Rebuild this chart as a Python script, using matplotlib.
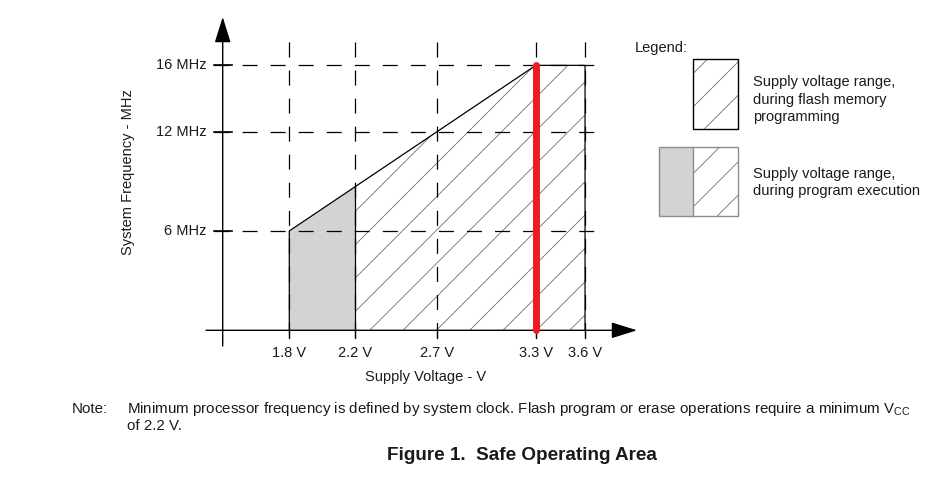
import numpy as np
import matplotlib
matplotlib.use("Agg")
import matplotlib.pyplot as plt
from matplotlib.patches import Polygon, Rectangle

# ---- data
volt_ticks = [1.8, 2.2, 2.7, 3.3, 3.6]
volt_labels = ["1.8 V", "2.2 V", "2.7 V", "3.3 V", "3.6 V"]
freq_ticks = [6, 12, 16]
freq_labels = ["6 MHz", "12 MHz", "16 MHz"]

# program execution only (grey) : 1.8 V .. 2.2 V
exec_v = [1.8, 1.8, 2.2, 2.2]
exec_f = [0, 6, 8.67, 0]
# flash programming allowed (hatched) : 2.2 V .. 3.6 V
flash_v = [2.2, 2.2, 3.3, 3.6, 3.6]
flash_f = [0, 8.67, 16, 16, 0]
# upper boundary of the safe operating area
limit_v = [1.8, 1.8, 3.3, 3.6, 3.6]
limit_f = [0, 6, 16, 16, 0]
# red marker at 3.3 V
marker_v = 3.3
marker_f = [0, 16]

# ---- figure / calibration (pixels of the reference)
W, H, DPI = 929, 491, 100
X0_PX, V0, PX_PER_V = 289.3, 1.8, 164.3
Y0_PX, PX_PER_MHZ = 330.3, 16.56

def vx(px):
    return V0 + (px - X0_PX) / PX_PER_V

def fy(py):
    return (Y0_PX - py) / PX_PER_MHZ

plt.rcParams["font.family"] = ["Liberation Sans", "DejaVu Sans"]
plt.rcParams["lines.scale_dashes"] = False
plt.rcParams["hatch.linewidth"] = 0.6

TXT = "#1a1a1a"
GREY = "#d1d3d4"
HATCH = "#707070"
RED = "#ed1c24"
DASH = (0, (10.8, 9.4))

fig = plt.figure(figsize=(W / DPI, H / DPI), dpi=DPI)
fig.patch.set_facecolor("white")

ax = fig.add_axes([190 / W, 1 - 360 / H, 460 / W, 355 / H])
ax.set_xlim(vx(190), vx(650))
ax.set_ylim(fy(360), fy(5))
ax.axis("off")

# overlay in pixel coordinates for legend and captions
lax = fig.add_axes([0, 0, 1, 1])
lax.set_xlim(0, W)
lax.set_ylim(H, 0)
lax.axis("off")

# --- areas
ax.add_patch(Polygon(np.column_stack([exec_v, exec_f]), closed=True,
                     facecolor=GREY, edgecolor="none", zorder=1))
ax.add_patch(Polygon(np.column_stack([flash_v, flash_f]), closed=True,
                     facecolor="white", edgecolor=HATCH, hatch="/", lw=0, zorder=1))

# --- dashed grid
for f in freq_ticks:
    ax.plot([vx(214), vx(600)], [f, f], color="black", lw=0.9, ls=DASH, zorder=2)
    ax.plot([vx(214), vx(232)], [f, f], color="black", lw=1.2, zorder=3)
for v in volt_ticks:
    ax.plot([v, v], [fy(42), fy(338)], color="black", lw=0.9, ls=DASH, zorder=2)
    ax.plot([v, v], [0, fy(338)], color="black", lw=0.9, zorder=3)

# --- outline of the area
ax.plot(limit_v, limit_f, color="black", lw=0.9, zorder=3)
ax.plot([flash_v[0], flash_v[1]], [flash_f[0], flash_f[1]], color="black", lw=0.9, zorder=3)

# --- axes with arrow heads
arrow = dict(arrowstyle="-|>,head_length=0.8,head_width=0.25", mutation_scale=20,
             lw=1.0, color="black", shrinkA=0, shrinkB=0)
ax.annotate("", xy=(vx(637), 0), xytext=(vx(206), 0), arrowprops=arrow, zorder=4)
ax.annotate("", xy=(vx(222.7), fy(17)), xytext=(vx(222.7), fy(346)), arrowprops=arrow, zorder=4)

# --- red marker line
ax.plot([marker_v, marker_v], marker_f, color=RED, lw=5, solid_capstyle="round", zorder=5)

# --- tick labels
for v, lab in zip(volt_ticks, volt_labels):
    ax.text(v, fy(353), lab, ha="center", va="center", fontsize=10.5, color=TXT)
for f, lab in zip(freq_ticks, freq_labels):
    ax.text(vx(207), f, lab, ha="right", va="center", fontsize=10.5, color=TXT)

lax.text(426, 377, "Supply Voltage - V", ha="center", va="center", fontsize=10.5, color=TXT)
lax.text(128, 172, "System Frequency - MHz", ha="center", va="center", rotation=90,
         fontsize=10.5, color=TXT)

# --- legend
lax.text(635, 48, "Legend:", ha="left", va="center", fontsize=10.5, color=TXT)
lax.add_patch(Rectangle((693, 59), 45, 70, facecolor="white", edgecolor=HATCH,
                        hatch="/", lw=0))
lax.add_patch(Rectangle((693, 59), 45, 70, facecolor="none", edgecolor="black", lw=1.0))
lax.add_patch(Rectangle((659, 147), 34, 69, facecolor=GREY, edgecolor="none"))
lax.add_patch(Rectangle((693, 147), 45, 69, facecolor="white", edgecolor=HATCH,
                        hatch="/", lw=0))
lax.add_patch(Rectangle((659, 147), 79, 69, facecolor="none", edgecolor="#8c8c8c", lw=1.0))
lax.plot([693, 693], [147, 216], color="#8c8c8c", lw=1.0)

for i, line in enumerate(["Supply voltage range,", "during flash memory", "programming"]):
    lax.text(753, 82 + i * 17.5, line, ha="left", va="center", fontsize=10.5, color=TXT)
for i, line in enumerate(["Supply voltage range,", "during program execution"]):
    lax.text(753, 174 + i * 17.5, line, ha="left", va="center", fontsize=10.5, color=TXT)

# --- note and caption
lax.text(72, 409, "Note:", ha="left", va="center", fontsize=10.9, color=TXT)
lax.text(127, 409, "Minimum processor frequency is defined by system clock. Flash program "
         r"or erase operations require a minimum V$_{\mathregular{CC}}$",
         ha="left", va="center", fontsize=10.9, color=TXT)
lax.text(127, 426, "of 2.2 V.", ha="left", va="center", fontsize=10.9, color=TXT)
lax.text(522, 456, "Figure 1.  Safe Operating Area", ha="center", va="center",
         fontsize=13.6, fontweight="bold", color=TXT)

fig.savefig("out.png", dpi=DPI)
